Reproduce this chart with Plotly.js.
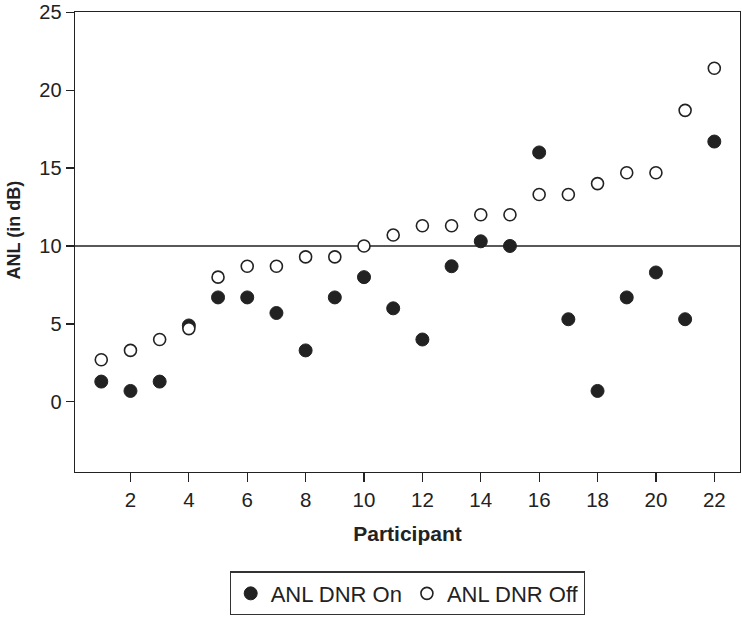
<!DOCTYPE html>
<html>
<head>
<meta charset="utf-8">
<script src="https://cdn.plot.ly/plotly-3.0.1.min.js"></script>
<style>html,body{margin:0;padding:0;background:#fff;}#chart{width:742px;height:617px;}</style>
</head>
<body>
<div id="chart"></div>
<script>
const participants = [1,2,3,4,5,6,7,8,9,10,11,12,13,14,15,16,17,18,19,20,21,22];
const anlDnrOn  = [1.3,0.7,1.3,4.9,6.7,6.7,5.7,3.3,6.7,8.0,6.0,4.0,8.7,10.3,10.0,16.0,5.3,0.7,6.7,8.3,5.3,16.7];
const anlDnrOff = [2.7,3.3,4.0,4.7,8.0,8.7,8.7,9.3,9.3,10.0,10.7,11.3,11.3,12.0,12.0,13.3,13.3,14.0,14.7,14.7,18.7,21.4];
const xTicks = [2,4,6,8,10,12,14,16,18,20,22];
const yTicks = [0,5,10,15,20,25];
const refLevel = 10;

const ink = '#222';
const traces = [
  {x: participants, y: anlDnrOn, type: 'scatter', mode: 'markers', name: 'ANL DNR On',
   marker: {symbol: 'circle', size: 13, color: ink, line: {color: ink, width: 1}}},
  {x: participants, y: anlDnrOff, type: 'scatter', mode: 'markers', name: 'ANL DNR Off',
   marker: {symbol: 'circle', size: 12, color: '#fff', line: {color: ink, width: 1.6}}}
];
const layout = {
  width: 742, height: 617,
  margin: {l: 75, r: 2, t: 12, b: 145},
  paper_bgcolor: '#fff', plot_bgcolor: '#fff',
  font: {family: 'Liberation Sans, Arial, sans-serif', color: ink, size: 20},
  showlegend: true,
  legend: {orientation: 'h', x: 0.5, xanchor: 'center', y: -0.216, yanchor: 'top',
           bordercolor: '#333', borderwidth: 1.2, font: {size: 22}, itemwidth: 30},
  xaxis: {range: [0.1, 22.88], tickvals: xTicks, ticks: 'outside', ticklen: 9, tickwidth: 1.2, tickcolor: ink,
          showgrid: false, zeroline: false, showline: true, linecolor: ink, linewidth: 1.4, mirror: true,
          tickfont: {size: 20.5}, ticklabeloverflow: 'allow',
          title: {text: 'Participant', font: {size: 21, weight: 'bold'}, standoff: 16}},
  yaxis: {range: [-4.5, 25.01], tickvals: yTicks, ticks: 'outside', ticklen: 8, tickwidth: 1.2, tickcolor: ink,
          showgrid: false, zeroline: false, showline: true, linecolor: ink, linewidth: 1.4, mirror: true,
          tickfont: {size: 20}, ticklabeloverflow: 'allow'},
  annotations: [{text: 'ANL (in dB)', textangle: -90, xref: 'paper', yref: 'paper',
                 x: -0.092, y: 0.527, xanchor: 'center', yanchor: 'middle', showarrow: false,
                 font: {size: 18, weight: 'bold', color: ink}}],
  shapes: [{type: 'line', xref: 'paper', x0: 0, x1: 1, yref: 'y', y0: refLevel, y1: refLevel,
            line: {color: ink, width: 1.5}, layer: 'below'}]
};
Plotly.newPlot('chart', traces, layout, {displayModeBar: false, staticPlot: true});
</script>
</body>
</html>
